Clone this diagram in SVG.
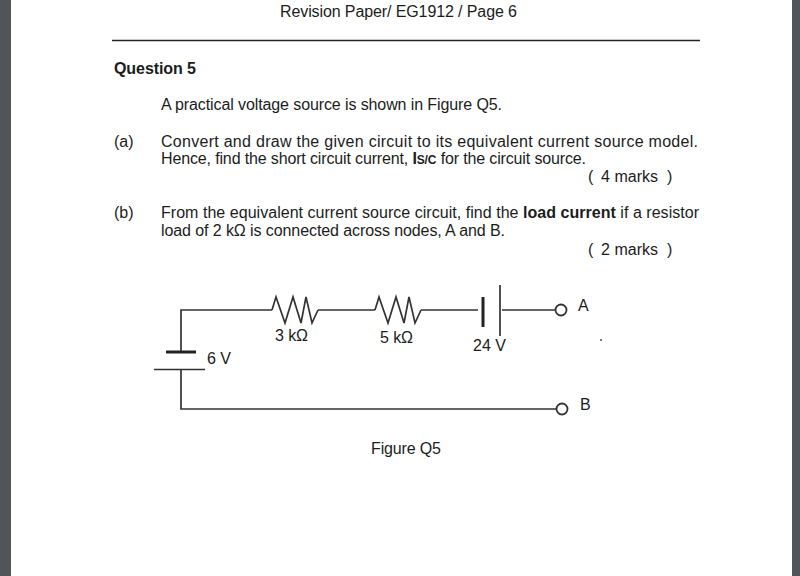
<svg xmlns="http://www.w3.org/2000/svg" width="800" height="576" viewBox="0 0 800 576">
<style>
text{font-family:"Liberation Sans",Arial,sans-serif;font-size:16px;fill:#1c1c1c}
.b{font-weight:bold}
.w{fill:none;stroke:#333;stroke-width:1.700;stroke-linejoin:miter}
.t{fill:#fff;stroke:#333;stroke-width:1.800}
.p{stroke:#222;stroke-width:3}
</style>
<rect width="800" height="576" fill="#fff"/>
<rect x="0" y="0" width="11" height="576" fill="#50555a"/>
<rect x="792" y="0" width="8" height="576" fill="#50555a"/>
<line x1="112" y1="40.500" x2="700" y2="40.500" stroke="#222" stroke-width="1.500"/>
<text x="280" y="17" textLength="237">Revision Paper/ EG1912 / Page 6</text>
<text class="b" x="114" y="74" textLength="82">Question 5</text>
<text x="161" y="110" textLength="341">A practical voltage source is shown in Figure Q5.</text>
<text x="114" y="147">(a)</text>
<text x="161" y="147" textLength="537">Convert and draw the given circuit to its equivalent current source model.</text>
<text x="161" y="164" textLength="425">Hence, find the short circuit current, <tspan class="b">I</tspan><tspan class="b" font-size="12">S/C</tspan> for the circuit source.</text>
<text x="588" y="182">(</text><text x="601" y="182" textLength="57">4 marks</text><text x="667" y="182">)</text>
<text x="114" y="218">(b)</text>
<text x="161" y="218" textLength="538">From the equivalent current source circuit, find the <tspan class="b">load current</tspan> if a resistor</text>
<text x="161" y="236" textLength="344">load of 2 kΩ is connected across nodes, A and B.</text>
<text x="588" y="255">(</text><text x="601" y="255" textLength="57">2 marks</text><text x="667" y="255">)</text>
<g id="connectors">
<path class="w" d="M272 310H181V352"/>
<path class="w" d="M318 310H375"/>
<path class="w" d="M421 310H478"/>
<path class="w" d="M502 310H555"/>
<path class="w" d="M181 369V409H556"/>
</g>
<g id="r1"><path class="w" d="M272 310L276 297L285 323L293 297L301 323L306 297L312 323L318 310"/><text x="275" y="341" textLength="33">3 kΩ</text></g>
<g id="r2"><path class="w" d="M375 310L379 297L388 323L396 297L404 323L409 297L415 323L421 310"/><text x="380" y="343" textLength="33">5 kΩ</text></g>
<g id="v1"><line class="p" x1="166" y1="352" x2="196" y2="352"/><line class="w" x1="154" y1="369.500" x2="205" y2="369.500"/><text x="207" y="364">6 V</text></g>
<g id="v2"><line class="p" x1="483" y1="297" x2="483" y2="327"/><line class="w" x1="500" y1="285" x2="500" y2="336"/><text x="473" y="351">24 V</text></g>
<g id="nodeA"><circle class="t" cx="561" cy="310" r="5.500"/><text x="578" y="311">A</text></g>
<g id="nodeB"><circle class="t" cx="562" cy="409" r="5.500"/><text x="580" y="410">B</text></g>
<circle cx="601" cy="340" r="1" fill="#555"/>
<text x="371" y="454" textLength="70">Figure Q5</text>
</svg>
